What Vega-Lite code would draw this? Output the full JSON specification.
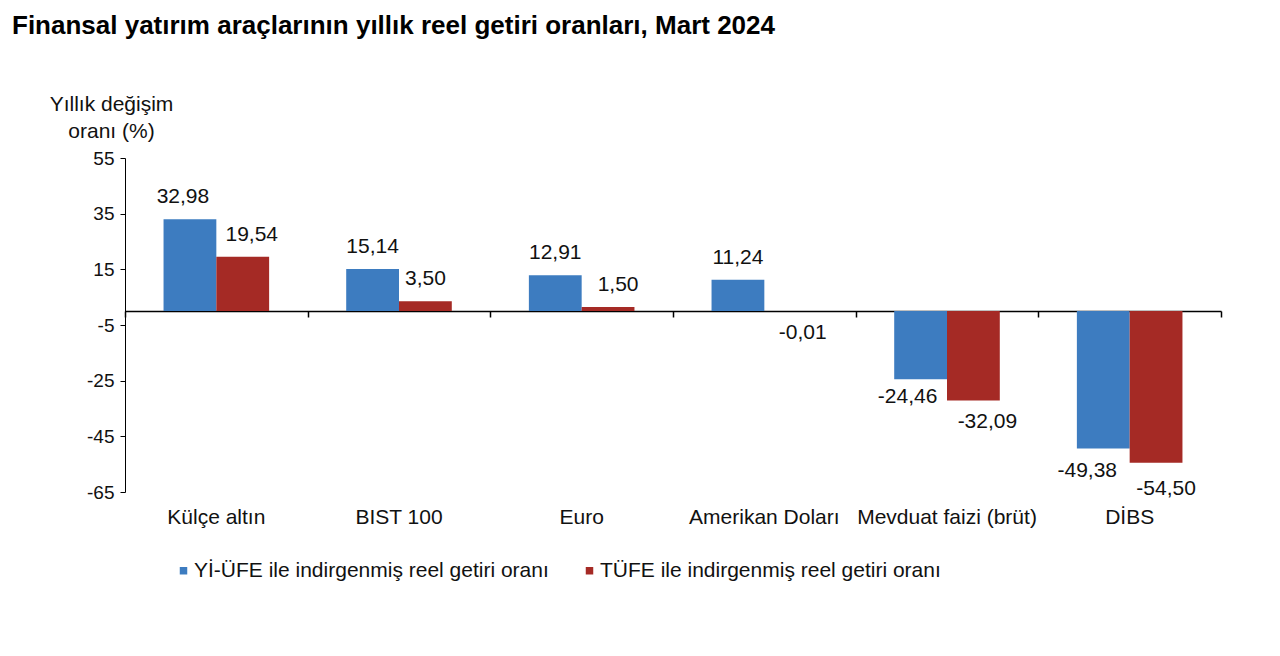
{
  "$schema": "https://vega.github.io/schema/vega-lite/v6.json",
  "autosize": {"type": "none"},
  "padding": {"left": 125, "top": 158, "right": 59, "bottom": 164},
  "width": 1096,
  "height": 334,
  "background": "white",
  "title": {
    "text": "Finansal yatırım araçlarının yıllık reel getiri oranları, Mart 2024",
    "anchor": "start",
    "frame": "group",
    "dx": -113,
    "dy": -50,
    "font": "Liberation Sans",
    "fontSize": 26,
    "fontWeight": "bold",
    "color": "#000000"
  },
  "config": {
    "font": "Liberation Sans",
    "view": {"stroke": null},
    "axis": {
      "labelFont": "Liberation Sans",
      "titleFont": "Liberation Sans",
      "labelColor": "#111111",
      "titleColor": "#111111",
      "domainColor": "#000000",
      "tickColor": "#000000",
      "grid": false
    }
  },
  "data": {
    "values": [
      {"arac": "Külçe altın", "seri": "Yİ-ÜFE ile indirgenmiş reel getiri oranı", "deger": 32.98},
      {"arac": "Külçe altın", "seri": "TÜFE ile indirgenmiş reel getiri oranı", "deger": 19.54},
      {"arac": "BIST 100", "seri": "Yİ-ÜFE ile indirgenmiş reel getiri oranı", "deger": 15.14},
      {"arac": "BIST 100", "seri": "TÜFE ile indirgenmiş reel getiri oranı", "deger": 3.50},
      {"arac": "Euro", "seri": "Yİ-ÜFE ile indirgenmiş reel getiri oranı", "deger": 12.91},
      {"arac": "Euro", "seri": "TÜFE ile indirgenmiş reel getiri oranı", "deger": 1.50},
      {"arac": "Amerikan Doları", "seri": "Yİ-ÜFE ile indirgenmiş reel getiri oranı", "deger": 11.24},
      {"arac": "Amerikan Doları", "seri": "TÜFE ile indirgenmiş reel getiri oranı", "deger": -0.01},
      {"arac": "Mevduat faizi (brüt)", "seri": "Yİ-ÜFE ile indirgenmiş reel getiri oranı", "deger": -24.46},
      {"arac": "Mevduat faizi (brüt)", "seri": "TÜFE ile indirgenmiş reel getiri oranı", "deger": -32.09},
      {"arac": "DİBS", "seri": "Yİ-ÜFE ile indirgenmiş reel getiri oranı", "deger": -49.38},
      {"arac": "DİBS", "seri": "TÜFE ile indirgenmiş reel getiri oranı", "deger": -54.50}
    ]
  },
  "encoding": {
    "x": {
      "field": "arac",
      "type": "nominal",
      "sort": null,
      "scale": {"paddingInner": 0, "paddingOuter": 0}
    },
    "xOffset": {
      "field": "seri",
      "type": "nominal",
      "sort": ["Yİ-ÜFE ile indirgenmiş reel getiri oranı", "TÜFE ile indirgenmiş reel getiri oranı"],
      "scale": {"paddingInner": 0, "paddingOuter": 0.73}
    },
    "y": {
      "field": "deger",
      "type": "quantitative",
      "scale": {"domain": [-65, 55], "nice": false, "zero": false},
      "axis": {
        "values": [55, 35, 15, -5, -25, -45, -65],
        "labelExpr": "replace(datum.label, '−', '-')",
        "tickSize": 5,
        "labelFontSize": 19,
        "labelPadding": 6,
        "title": ["Yıllık değişim", "oranı (%)"],
        "titleAngle": 0,
        "titleAlign": "center",
        "titleBaseline": "top",
        "titleX": -14,
        "titleY": -65,
        "titleFontSize": 21,
        "titleFontWeight": "normal",
        "titleLineHeight": 27
      }
    }
  },
  "layer": [
    {
      "mark": {"type": "bar"},
      "encoding": {
        "x": {
          "field": "arac",
          "type": "nominal",
          "sort": null,
          "axis": {
            "orient": "bottom",
            "title": null,
            "domain": false,
            "ticks": false,
            "labelAngle": 0,
            "labelFontSize": 21,
            "labelPadding": 14
          }
        },
        "color": {
          "field": "seri",
          "type": "nominal",
          "sort": ["Yİ-ÜFE ile indirgenmiş reel getiri oranı", "TÜFE ile indirgenmiş reel getiri oranı"],
          "scale": {"range": ["#3d7cc0", "#a52a25"]},
          "legend": {
            "title": null,
            "orient": "none",
            "direction": "horizontal",
            "legendX": 48,
            "legendY": 402,
            "symbolType": "square",
            "symbolSize": 56,
            "symbolStrokeWidth": 0,
            "labelFont": "Liberation Sans",
            "labelFontSize": 21,
            "labelColor": "#111111",
            "labelOffset": 0,
            "columnPadding": 30,
            "labelLimit": 500
          }
        }
      }
    },
    {
      "mark": {
        "type": "text",
        "fontSize": 21,
        "color": "#111111",
        "baseline": "middle",
        "dx": {"expr": "datum.deger == 32.98 ? -7 : datum.deger == 19.54 ? 9 : datum.deger == 1.5 ? 10 : datum.deger == -0.01 ? 12 : datum.deger == -24.46 ? -13 : datum.deger == -32.09 ? 14 : datum.deger == -49.38 ? -16 : datum.deger == -54.5 ? 10 : 0"},
        "dy": {"expr": "datum.deger >= 0 ? -22 : datum.deger == -54.5 ? 26 : datum.deger == -24.46 ? 18 : 22"},
        "text": {"expr": "replace(replace(format(datum.deger, '.2f'), '.', ','), '−', '-')"}
      },
      "encoding": {
        "x": {
          "field": "arac",
          "type": "nominal",
          "sort": null,
          "axis": {
            "orient": "bottom",
            "offset": -181,
            "title": null,
            "labels": false,
            "domain": true,
            "domainWidth": 1.5,
            "ticks": true,
            "tickBand": "extent",
            "tickSize": 6,
            "tickWidth": 1.5
          }
        }
      }
    }
  ],
  "resolve": {"axis": {"x": "independent"}}
}
